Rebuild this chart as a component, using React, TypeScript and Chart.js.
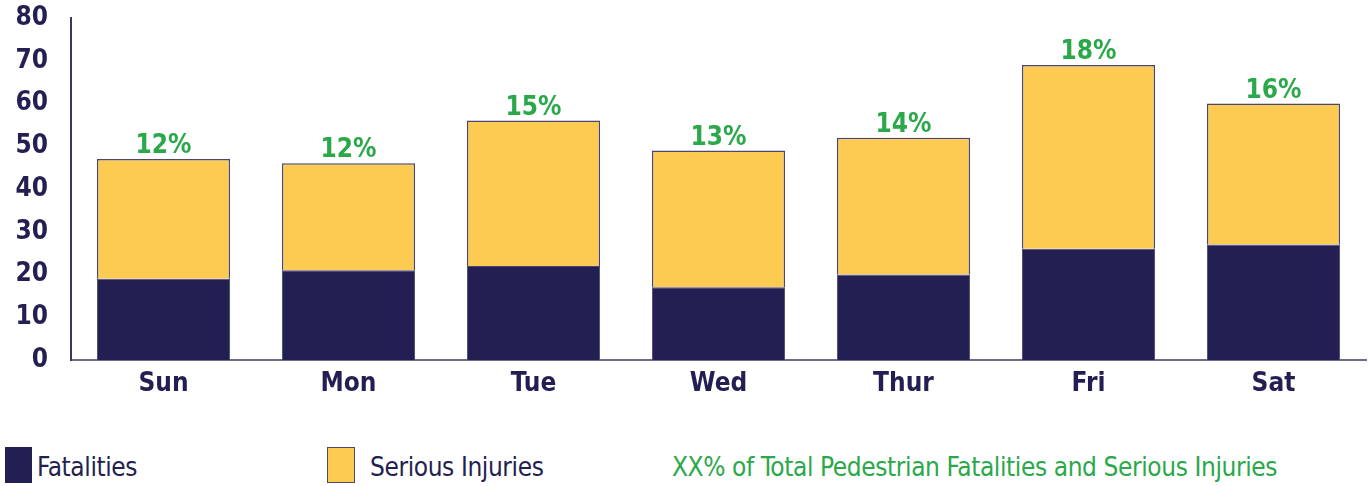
import React, { useEffect, useRef } from "react";
import { Chart, registerables } from "chart.js";

Chart.register(...registerables);

const categories = ["Sun", "Mon", "Tue", "Wed", "Thur", "Fri", "Sat"];
const fatalities = [19, 21, 22, 17, 20, 26, 27];
const seriousInjuries = [28, 25, 34, 32, 32, 43, 33];
const percentLabels = ["12%", "12%", "15%", "13%", "14%", "18%", "16%"];
const yMin = 0;
const yMax = 80;
const yStep = 10;

const NAVY = "#241f52";
const YELLOW = "#fdcb52";
const GREEN = "#2aa84a";
const FONT = "'DejaVu Sans Condensed', 'Liberation Sans Narrow', 'Roboto', sans-serif";

const percentPlugin = {
  id: "percentLabels",
  afterDatasetsDraw(chart: any) {
    const meta = chart.getDatasetMeta(1);
    const ctx = chart.ctx;
    ctx.save();
    ctx.fillStyle = GREEN;
    ctx.font = `bold 26px ${FONT}`;
    ctx.textAlign = "center";
    ctx.textBaseline = "alphabetic";
    meta.data.forEach((bar: any, i: number) => {
      ctx.fillText(percentLabels[i], bar.x, bar.y - 6);
    });
    ctx.restore();
  },
};

export default function App() {
  const ref = useRef<HTMLCanvasElement | null>(null);

  useEffect(() => {
    if (!ref.current) return;
    const chart = new Chart(ref.current, {
      type: "bar",
      data: {
        labels: categories,
        datasets: [
          {
            label: "Fatalities",
            data: fatalities,
            backgroundColor: NAVY,
            borderColor: "#4a4670",
            borderWidth: 1,
            categoryPercentage: 0.72,
            barPercentage: 1,
          },
          {
            label: "Serious Injuries",
            data: seriousInjuries,
            backgroundColor: YELLOW,
            borderColor: "#4a4670",
            borderWidth: 1.5,
            categoryPercentage: 0.72,
            barPercentage: 1,
          },
        ],
      },
      options: {
        responsive: false,
        animation: false,
        layout: { padding: { top: 0, right: 3, left: 0, bottom: 0 } },
        plugins: {
          legend: { display: false },
          tooltip: { enabled: false },
        },
        scales: {
          x: {
            stacked: true,
            grid: { display: false, drawTicks: false },
            border: { display: true, color: "#6e6c86", width: 2 },
            ticks: {
              color: NAVY,
              font: { family: FONT, size: 26, weight: "bold" },
              padding: 9,
            },
            afterFit: (s: any) => {
              s.height = 60;
            },
          },
          y: {
            stacked: true,
            min: yMin,
            max: yMax,
            grid: { display: false, drawTicks: false },
            border: { display: true, color: "#3a3660", width: 2 },
            ticks: {
              stepSize: yStep,
              color: NAVY,
              font: { family: FONT, size: 26, weight: "bold" },
              padding: 23,
            },
            afterFit: (s: any) => {
              s.width = 71;
              s.paddingTop = 18;
              s.paddingBottom = 0;
            },
          },
        },
      },
      plugins: [percentPlugin],
    });
    return () => chart.destroy();
  }, []);

  const legendText: React.CSSProperties = {
    position: "absolute",
    top: 449,
    fontFamily: FONT,
    fontSize: 26,
    letterSpacing: "-0.4px",
    lineHeight: "36px",
    whiteSpace: "nowrap",
  };

  return (
    <div style={{ position: "fixed", left: 0, top: 0, width: 1369, height: 486, background: "#fff", overflow: "hidden" }}>
      <canvas ref={ref} width={1369} height={420} style={{ display: "block" }} />
      <div style={{ position: "absolute", left: 5, top: 447, width: 27, height: 36, background: NAVY }} />
      <div style={{ ...legendText, left: 37, color: NAVY }}>Fatalities</div>
      <div
        style={{
          position: "absolute",
          left: 327,
          top: 447,
          width: 26,
          height: 34,
          background: YELLOW,
          border: "1px solid #4a4670",
        }}
      />
      <div style={{ ...legendText, left: 370, color: NAVY }}>Serious Injuries</div>
      <div style={{ ...legendText, left: 672, color: GREEN }}>XX% of Total Pedestrian Fatalities and Serious Injuries</div>
    </div>
  );
}
